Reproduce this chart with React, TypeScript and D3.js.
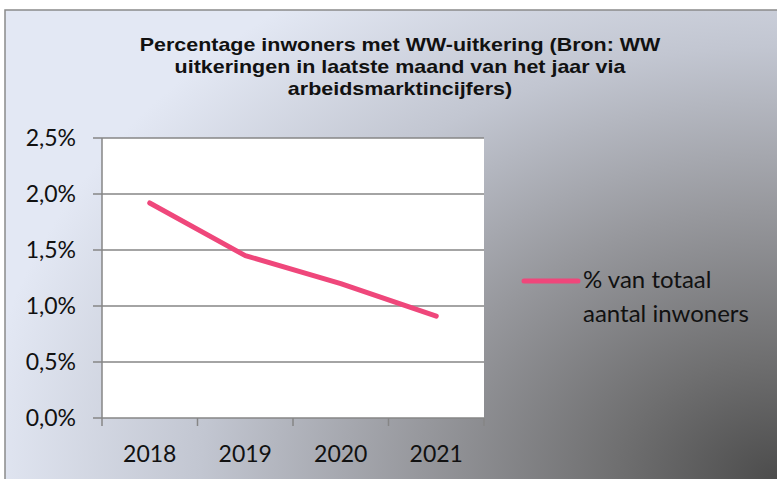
import * as d3 from "d3";
import { useEffect, useRef } from "react";

// data
const years = ["2018", "2019", "2020", "2021"];
const shares = [1.92, 1.45, 1.2, 0.91]; // % van totaal aantal inwoners
const yTicks = [0, 0.5, 1, 1.5, 2, 2.5];
const titleLines = [
  "Percentage inwoners met WW-uitkering (Bron: WW",
  "uitkeringen in laatste maand van het jaar via",
  "arbeidsmarktincijfers)",
];
const legendLines = ["% van totaal", "aantal inwoners"];

const W = 777;
const H = 479;
const FONT = "Lato, 'Open Sans', sans-serif";
const PINK = "#ef477b";

export default function App() {
  const ref = useRef<SVGSVGElement>(null);

  useEffect(() => {
    const svg = d3.select(ref.current);
    svg.selectAll("*").remove();

    // plot box
    const plot = { left: 102, right: 484, top: 138, bottom: 418 };

    // background gradient (dark in the bottom-right corner)
    const defs = svg.append("defs");
    const grad = defs
      .append("radialGradient")
      .attr("id", "bg")
      .attr("gradientUnits", "userSpaceOnUse")
      .attr("cx", W)
      .attr("cy", H)
      .attr("r", 800)
      .attr(
        "gradientTransform",
        `translate(${W},${H}) scale(1,0.75) translate(${-W},${-H})`
      );
    [
      [0, "#4c4c4c"],
      [0.2, "#6f6f70"],
      [0.45, "#97989d"],
      [0.72, "#c2c6d1"],
      [1, "#e3e8f4"],
    ].forEach(([o, c]) =>
      grad.append("stop").attr("offset", o as number).attr("stop-color", c as string)
    );

    svg
      .append("rect")
      .attr("x", 5)
      .attr("y", 10)
      .attr("width", W)
      .attr("height", H)
      .attr("fill", "url(#bg)")
      .attr("stroke", "#8a8a8a")
      .attr("stroke-width", 1.5);

    // scales
    const x = d3.scaleBand<string>().domain(years).range([plot.left, plot.right]);
    const y = d3.scaleLinear().domain([0, 2.5]).range([plot.bottom, plot.top]);

    svg
      .append("rect")
      .attr("x", plot.left)
      .attr("y", plot.top)
      .attr("width", plot.right - plot.left)
      .attr("height", plot.bottom - plot.top)
      .attr("fill", "white");

    // gridlines + y ticks
    svg
      .append("g")
      .selectAll("line")
      .data(yTicks)
      .enter()
      .append("line")
      .attr("x1", plot.left - 9)
      .attr("x2", plot.right)
      .attr("y1", (d) => y(d))
      .attr("y2", (d) => y(d))
      .attr("stroke", "#868686")
      .attr("stroke-width", 1.5);

    svg
      .append("g")
      .selectAll("text")
      .data(yTicks)
      .enter()
      .append("text")
      .attr("x", 76)
      .attr("y", (d) => y(d))
      .attr("dy", "0.36em")
      .attr("text-anchor", "end")
      .attr("font-family", FONT)
      .attr("font-size", 23)
      .attr("fill", "#111")
      .text((d) => d3.format(".1f")(d).replace(".", ",") + "%");

    // axis lines and x ticks
    svg
      .append("line")
      .attr("x1", plot.left)
      .attr("x2", plot.left)
      .attr("y1", plot.top)
      .attr("y2", plot.bottom + 8)
      .attr("stroke", "#868686")
      .attr("stroke-width", 1.5);

    const bounds = years.map((d) => x(d)!).concat([plot.right]);
    svg
      .append("g")
      .selectAll("line")
      .data(bounds.slice(1))
      .enter()
      .append("line")
      .attr("x1", (d) => d)
      .attr("x2", (d) => d)
      .attr("y1", plot.bottom)
      .attr("y2", plot.bottom + 8)
      .attr("stroke", "#868686")
      .attr("stroke-width", 1.5);

    svg
      .append("g")
      .selectAll("text")
      .data(years)
      .enter()
      .append("text")
      .attr("x", (d) => x(d)! + x.bandwidth() / 2)
      .attr("y", 462)
      .attr("text-anchor", "middle")
      .attr("font-family", FONT)
      .attr("font-size", 23)
      .attr("fill", "#111")
      .text((d) => d);

    // the line
    const line = d3
      .line<number>()
      .x((_, i) => x(years[i])! + x.bandwidth() / 2)
      .y((d) => y(d));
    svg
      .append("path")
      .datum(shares)
      .attr("d", line)
      .attr("fill", "none")
      .attr("stroke", PINK)
      .attr("stroke-width", 5)
      .attr("stroke-linecap", "round")
      .attr("stroke-linejoin", "round");

    // title, slightly stretched sideways like the original
    svg
      .append("g")
      .attr("transform", "translate(400,0) scale(1.13,1)")
      .selectAll("text")
      .data(titleLines)
      .enter()
      .append("text")
      .attr("x", 0)
      .attr("y", (_, i) => 51.5 + i * 22)
      .attr("text-anchor", "middle")
      .attr("font-family", "'Liberation Sans', Arial, sans-serif")
      .attr("font-weight", "bold")
      .attr("font-size", 19)
      .attr("fill", "#111")
      .text((d) => d);

    // legend
    svg
      .append("line")
      .attr("x1", 524)
      .attr("x2", 578)
      .attr("y1", 281)
      .attr("y2", 281)
      .attr("stroke", PINK)
      .attr("stroke-width", 5)
      .attr("stroke-linecap", "round");
    svg
      .append("g")
      .selectAll("text")
      .data(legendLines)
      .enter()
      .append("text")
      .attr("x", 583)
      .attr("y", (_, i) => 288 + i * 33.5)
      .attr("font-family", FONT)
      .attr("font-size", 24)
      .attr("fill", "#111")
      .text((d) => d);
  }, []);

  return (
    <svg
      ref={ref}
      width={W}
      height={H}
      style={{ position: "absolute", left: 0, top: 0, background: "white" }}
    ></svg>
  );
}
